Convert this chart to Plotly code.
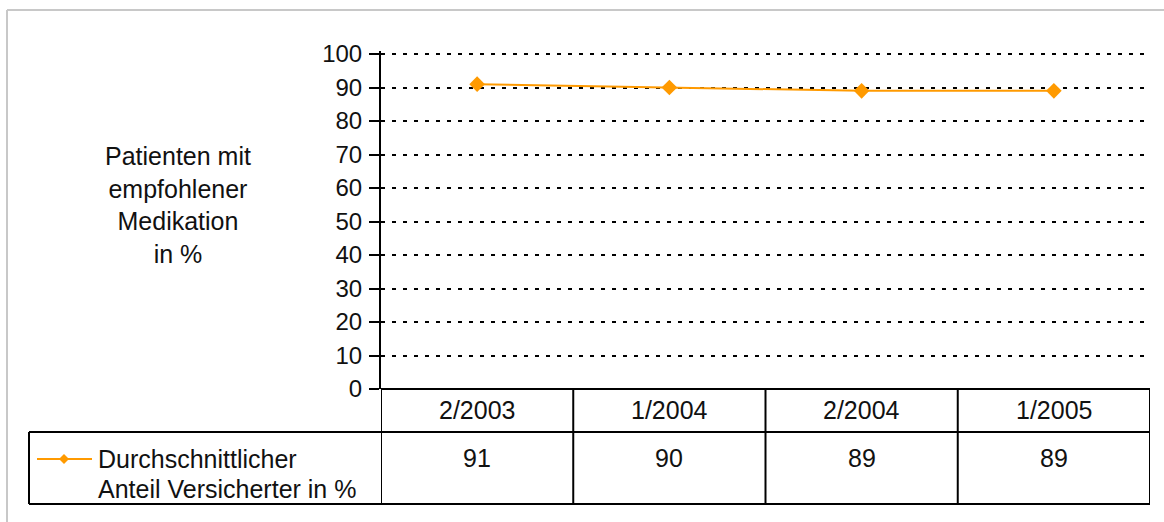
import plotly.graph_objects as go

# Data
periods = ["2/2003", "1/2004", "2/2004", "1/2005"]
share = [91, 90, 89, 89]
series_name = ["Durchschnittlicher", "Anteil Versicherter in %"]
y_title = ["Patienten mit", "empfohlener", "Medikation", "in %"]
y_ticks = [0, 10, 20, 30, 40, 50, 60, 70, 80, 90, 100]

W, H = 1164, 522
ORANGE = "#FF9A00"
FONT = "Liberation Sans, Arial, sans-serif"


def px(x):
    return x / W


def py(y):
    return 1 - y / H


# Plot area geometry (pixels)
X0, X1 = 381, 1150
Y_100, Y_ZERO = 54, 389
Y_TOP = 51                       # axis line runs a little above the 100 line
Y_HEAD, Y_BOT = 432, 504
X_LEG = 29
Y_MAX = 100 * (Y_ZERO - Y_TOP) / (Y_ZERO - Y_100)

fig = go.Figure()
xs = list(range(len(periods)))
fig.add_trace(go.Scatter(
    x=xs, y=share, mode="lines+markers",
    line=dict(color=ORANGE, width=2),
    marker=dict(symbol="diamond", size=12, color=ORANGE),
    cliponaxis=False, showlegend=False, hoverinfo="skip",
))

shapes = []
blk = dict(color="black", width=2)
# frame
gray = dict(color="#C8C8C8", width=2)
shapes.append(dict(type="line", xref="paper", yref="paper",
                   x0=px(7), x1=px(W), y0=py(10), y1=py(10), line=gray))
shapes.append(dict(type="line", xref="paper", yref="paper",
                   x0=px(7), x1=px(7), y0=py(10), y1=py(H), line=gray))
# table horizontals
shapes.append(dict(type="line", xref="paper", yref="paper",
                   x0=px(X0), x1=px(X1), y0=py(Y_ZERO), y1=py(Y_ZERO), line=blk))
for yy in (Y_HEAD, Y_BOT):
    shapes.append(dict(type="line", xref="paper", yref="paper",
                       x0=px(X_LEG), x1=px(X1), y0=py(yy), y1=py(yy), line=blk))
# table verticals
shapes.append(dict(type="line", xref="paper", yref="paper",
                   x0=px(X_LEG), x1=px(X_LEG), y0=py(Y_HEAD), y1=py(Y_BOT), line=blk))
for i in range(len(periods) + 1):
    xb = i - 0.5
    shapes.append(dict(type="line", xref="x", yref="paper",
                       x0=xb, x1=xb, y0=py(Y_ZERO), y1=py(Y_BOT), line=blk))

# legend key inside the table
ky = 459
shapes.append(dict(type="line", xref="paper", yref="paper",
                   x0=px(37), x1=px(92), y0=py(ky), y1=py(ky),
                   line=dict(color=ORANGE, width=2)))
d = 5
cx = 64
shapes.append(dict(type="path", xref="paper", yref="paper",
                   path=f"M {px(cx-d)} {py(ky)} L {px(cx)} {py(ky-d)} L {px(cx+d)} {py(ky)} L {px(cx)} {py(ky+d)} Z",
                   fillcolor=ORANGE, line=dict(color=ORANGE, width=0)))

annotations = []
font = dict(family=FONT, size=25, color="#111111")
tick_font = dict(family=FONT, size=24, color="#111111")
for i, p in enumerate(periods):
    annotations.append(dict(x=i, y=py(410), xref="x", yref="paper", text=p,
                            showarrow=False, font=font, xanchor="center", yanchor="middle"))
for i, v in enumerate(share):
    annotations.append(dict(x=i, y=py(458), xref="x", yref="paper", text=str(v),
                            showarrow=False, font=font, xanchor="center", yanchor="middle"))
annotations.append(dict(x=px(96), y=py(459), xref="paper", yref="paper", text=series_name[0],
                        showarrow=False, font=font, xanchor="left", yanchor="middle"))
annotations.append(dict(x=px(96), y=py(489), xref="paper", yref="paper", text=series_name[1],
                        showarrow=False, font=font, xanchor="left", yanchor="middle"))
annotations.append(dict(x=px(178), y=py(205), xref="paper", yref="paper",
                        text="<br>".join(y_title), align="center",
                        showarrow=False, font=font, xanchor="center", yanchor="middle"))

fig.update_layout(
    width=W, height=H,
    margin=dict(l=0, r=0, t=0, b=0, pad=0, autoexpand=False),
    paper_bgcolor="white", plot_bgcolor="white",
    shapes=shapes, annotations=annotations,
    xaxis=dict(domain=[px(X0), px(X1)], range=[-0.5, len(periods) - 0.5],
               showgrid=False, zeroline=False, showticklabels=False,
               ticks="", showline=False, fixedrange=True, automargin=False),
    yaxis=dict(domain=[py(Y_ZERO), py(Y_TOP)], range=[0, Y_MAX],
               tickvals=y_ticks, showline=True, linecolor="black", linewidth=2,
               ticks="outside", ticklen=10, tickwidth=2, tickcolor="black",
               showgrid=True, gridcolor="black", gridwidth=2, griddash="4px,7px",
               zeroline=False, tickfont=tick_font, ticklabelstandoff=2, fixedrange=True,
               automargin=False),
)

fig.write_html("out.html")
